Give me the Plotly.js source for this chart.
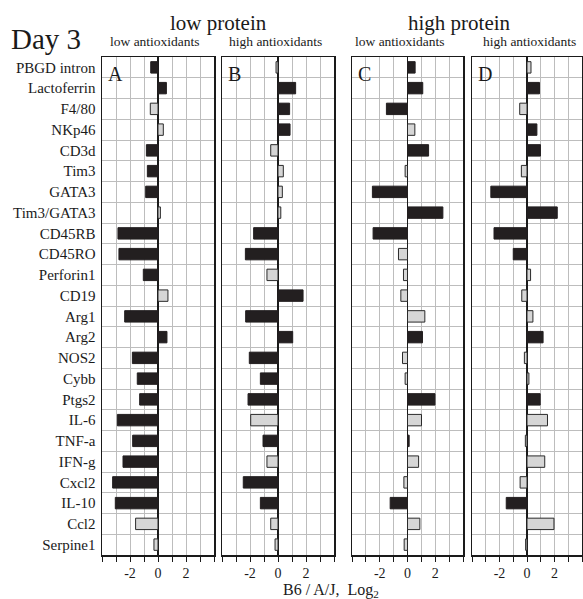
<!DOCTYPE html>
<html>
<head>
<meta charset="utf-8">
<script src="https://cdn.plot.ly/plotly-3.0.1.min.js"></script>
<style>html,body{margin:0;padding:0;background:#fff;}#chart{width:583px;height:599px;}</style>
</head>
<body>
<div id="chart"></div>
<script>
var genes = ["PBGD intron","Lactoferrin","F4/80","NKp46","CD3d","Tim3","GATA3","Tim3/GATA3","CD45RB","CD45RO","Perforin1","CD19","Arg1","Arg2","NOS2","Cybb","Ptgs2","IL-6","TNF-a","IFN-g","Cxcl2","IL-10","Ccl2","Serpine1"];

var panelLetters = ["A","B","C","D"];
var proteinLabels = ["low protein","high protein"];
var antioxLabels = ["low antioxidants","high antioxidants","low antioxidants","high antioxidants"];
var xTickVals = [-4,-3,-2,-1,0,1,2,3,4];
var xTickText = ["","","-2","","0","","2","",""];

var valuesA = [-0.52,0.6,-0.55,0.38,-0.83,-0.76,-0.88,0.17,-2.86,-2.79,-1.05,0.71,-2.38,0.64,-1.83,-1.48,-1.31,-2.9,-1.81,-2.5,-3.24,-3.05,-1.6,-0.29];
var valuesB = [-0.14,1.26,0.83,0.86,-0.52,0.38,0.31,0.2,-1.74,-2.33,-0.79,1.79,-2.31,1.05,-2.05,-1.26,-2.14,-1.95,-1.07,-0.79,-2.48,-1.26,-0.52,-0.21];
var valuesC = [0.55,1.1,-1.52,0.53,1.52,-0.17,-2.53,2.55,-2.48,-0.65,-0.29,-0.48,1.25,1.08,-0.36,-0.17,1.98,1.01,0.12,0.8,-0.26,-1.25,0.89,-0.24];
var valuesD = [0.29,0.91,-0.53,0.72,0.98,-0.41,-2.63,2.2,-2.4,-1.0,0.26,-0.38,0.43,1.17,-0.19,0.14,0.96,1.49,-0.12,1.29,-0.5,-1.51,1.96,-0.1];

// 1 = significant (black bar), 0 = not significant (gray bar)
var sigA = [1,1,0,0,1,1,1,0,1,1,1,0,1,1,1,1,1,1,1,1,1,1,0,0];
var sigB = [0,1,1,1,0,0,0,0,1,1,0,1,1,1,1,1,1,0,1,0,1,1,0,0];
var sigC = [1,1,1,0,1,0,1,1,1,0,0,0,0,1,0,0,1,0,1,0,0,1,0,0];
var sigD = [0,1,0,1,1,0,1,1,1,1,0,0,0,1,0,0,1,0,0,0,0,1,0,0];

var W = 583, H = 599;
var FONT = "Liberation Serif, Times New Roman, serif";
var panels = [
  {vals: valuesA, sig: sigA, x0: 102, x1: 214},
  {vals: valuesB, sig: sigB, x0: 222, x1: 334},
  {vals: valuesC, sig: sigC, x0: 352, x1: 463},
  {vals: valuesD, sig: sigD, x0: 472, x1: 582}
];
var yTop = 57, yBot = 555;
var idx = genes.map(function(g,i){return i;});
var minorVals = [];
for (var k = 0; k < genes.length - 1; k++) minorVals.push(k + 0.5);

var traces = [];
var layout = {
  width: W, height: H,
  margin: {l:0, r:0, t:0, b:0},
  paper_bgcolor: "#fff", plot_bgcolor: "#fff",
  showlegend: false,
  font: {family: FONT, color: "#1a1a1a"},
  bargap: 0,
  annotations: []
};

panels.forEach(function(p, i){
  var n = i === 0 ? "" : String(i+1);
  traces.push({
    type: "bar", orientation: "h",
    x: p.vals, y: idx,
    width: 0.55,
    xaxis: "x" + n, yaxis: "y" + n,
    marker: {
      color: p.sig.map(function(s){return s ? "#231f20" : "#d6d6d6";}),
      line: {color: p.sig.map(function(s){return s ? "#231f20" : "#2a2a2a";}), width: 1}
    },
    hoverinfo: "x+y"
  });
  layout["xaxis" + n] = {
    domain: [p.x0 / W, p.x1 / W],
    anchor: "y" + n,
    range: [-4, 4],
    tickmode: "array", tickvals: xTickVals, ticktext: xTickText,
    ticks: "outside", ticklen: 5, tickwidth: 1, tickcolor: "#1a1a1a",
    tickfont: {family: FONT, size: 14, color: "#1a1a1a"},
    showgrid: true, gridcolor: "#bdbdbd", gridwidth: 1,
    zeroline: true, zerolinecolor: "#1a1a1a", zerolinewidth: 1.5,
    showline: true, linecolor: "#1a1a1a", linewidth: 1.5, mirror: true,
    fixedrange: true
  };
  layout["yaxis" + n] = {
    domain: [1 - yBot / H, 1 - yTop / H],
    anchor: "x" + n,
    range: [genes.length - 0.5, -0.5],
    tickmode: "array", tickvals: idx, ticktext: genes,
    showticklabels: i === 0,
    ticks: "", ticklabelstandoff: 2,
    tickfont: {family: FONT, size: 15, color: "#1a1a1a"},
    showgrid: false, zeroline: false,
    minor: {tickmode: "array", tickvals: minorVals, showgrid: true, gridcolor: "#bdbdbd", gridwidth: 1, ticks: ""},
    showline: true, linecolor: "#1a1a1a", linewidth: 1.5, mirror: true,
    fixedrange: true
  };
  layout.annotations.push({
    text: panelLetters[i], xref: "paper", yref: "paper",
    x: (p.x0 + 4) / W, y: 1 - 61 / H, xanchor: "left", yanchor: "top",
    showarrow: false, font: {family: FONT, size: 20, color: "#1a1a1a"}
  });
  var acx = [155, 275, 400, 529][i];
  layout.annotations.push({
    text: antioxLabels[i], xref: "paper", yref: "paper",
    x: acx / W, y: 1 - 42 / H, xanchor: "center", yanchor: "middle",
    showarrow: false, font: {family: FONT, size: 13.5, color: "#1a1a1a"}
  });
});

layout.annotations.push({
  text: "Day 3", xref: "paper", yref: "paper", x: 9 / W, y: 1 - 39 / H,
  xanchor: "left", yanchor: "middle", showarrow: false,
  font: {family: FONT, size: 29, color: "#1a1a1a"}
});
[218, 459].forEach(function(cx, j){
  layout.annotations.push({
    text: proteinLabels[j], xref: "paper", yref: "paper", x: cx / W, y: 1 - 23 / H,
    xanchor: "center", yanchor: "middle", showarrow: false,
    font: {family: FONT, size: 21, color: "#1a1a1a"}
  });
});
layout.annotations.push({
  text: "B6 / A/J,  Log<sub>2</sub>", xref: "paper", yref: "paper", x: 331 / W, y: 1 - 590.5 / H,
  xanchor: "center", yanchor: "middle", showarrow: false,
  font: {family: FONT, size: 16, color: "#1a1a1a"}
});

Plotly.newPlot("chart", traces, layout, {staticPlot: true, displayModeBar: false});
</script>
</body>
</html>
